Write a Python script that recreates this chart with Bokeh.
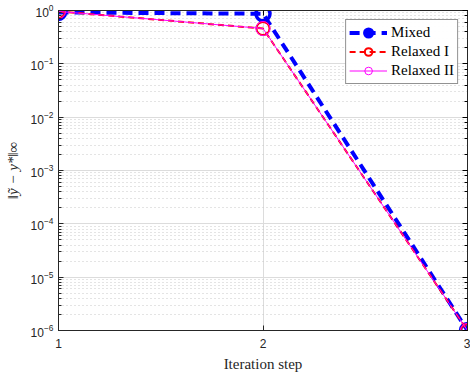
from bokeh.plotting import figure
from bokeh.models import LogAxis, LinearAxis, Legend, LegendItem, FixedTicker, Range1d
from bokeh.embed import file_html
from bokeh.resources import INLINE

steps = [1, 2, 3]
mixed = [0.92, 0.87, 1e-6]
relaxed1 = [0.96, 0.46, 1e-6]
relaxed2 = [0.96, 0.46, 1e-6]
x_ticks = [1, 2, 3]

p = figure(frame_width=409, frame_height=320, y_axis_type="log", output_backend="svg",
           toolbar_location=None, x_range=Range1d(1, 3), y_range=Range1d(1e-6, 1),
           min_border_left=58, min_border_right=3, min_border_top=10, min_border_bottom=43)
p.outline_line_color = "#262626"
p.outline_line_width = 1
p.background_fill_color = "white"

for ax in [p.xaxis[0], p.yaxis[0]]:
    ax.major_tick_in = 5
    ax.major_tick_out = 0
    ax.minor_tick_in = 3
    ax.minor_tick_out = 0
    ax.axis_line_color = "#262626"
    ax.major_tick_line_color = "#262626"
    ax.minor_tick_line_color = "#262626"
    ax.major_label_text_font = "Liberation Sans"
    ax.major_label_text_font_size = "12px"
    ax.major_label_text_color = "#262626"
    ax.axis_label_text_font = "Liberation Serif"
    ax.axis_label_text_font_style = "normal"
    ax.axis_label_text_font_size = "15px"
    ax.axis_label_text_color = "#262626"

p.xaxis.ticker = FixedTicker(ticks=x_ticks, minor_ticks=[])
p.xaxis.axis_label = "Iteration step"
p.yaxis.axis_label = "‖ỹ − y*‖∞"
p.yaxis.axis_label_text_font_style = "italic"
p.xaxis.major_label_standoff = 8
p.yaxis.major_label_standoff = 5
p.xaxis.axis_label_standoff = 5
p.yaxis.axis_label_standoff = 7

ra = LogAxis(major_label_text_font_size="1px", major_label_text_color=None,
             major_tick_in=5, major_tick_out=0,
             minor_tick_in=3, minor_tick_out=0, axis_line_color="#262626",
             major_label_standoff=0)
p.add_layout(ra, "right")
ta = LinearAxis(major_label_text_font_size="1px", major_label_text_color=None,
                major_tick_in=5, major_tick_out=0,
                minor_tick_in=0, minor_tick_out=0, axis_line_color="#262626",
                major_label_standoff=0)
ta.ticker = FixedTicker(ticks=x_ticks, minor_ticks=[])
p.add_layout(ta, "above")

p.xgrid.grid_line_color = "#dcdcdc"
p.ygrid.grid_line_color = "#dcdcdc"
p.ygrid.minor_grid_line_color = "#c8c8c8"
p.ygrid.minor_grid_line_dash = "1 3"

l1 = p.line(steps, mixed, line_color="#0000ff", line_width=4, line_dash="10 6")
m1 = p.scatter(steps, mixed, marker="circle", size=14, line_color="#0000ff",
               line_width=3.5, fill_color=None)
l2 = p.line(steps, relaxed1, line_color="#ff0000", line_width=2, line_dash="6 4")
m2 = p.scatter(steps, relaxed1, marker="circle", size=13, line_color="#ff0000",
               line_width=2, fill_color=None)
l3 = p.line(steps, relaxed2, line_color="#ff00ff", line_width=1)
m3 = p.scatter(steps, relaxed2, marker="circle", size=14, line_color="#ff00ff",
               line_width=1, fill_color=None)

legend = Legend(items=[
    LegendItem(label="Mixed", renderers=[l1, m1]),
    LegendItem(label="Relaxed I", renderers=[l2, m2]),
    LegendItem(label="Relaxed II", renderers=[l3, m3]),
], location="top_right")
legend.label_text_font = "Liberation Serif"
legend.label_text_font_size = "15px"
legend.label_text_color = "black"
legend.border_line_color = "#262626"
legend.border_line_width = 1
legend.margin = 9
legend.padding = 3
legend.spacing = 0
legend.glyph_width = 38
legend.glyph_height = 19
legend.label_height = 19
legend.label_standoff = 4
p.add_layout(legend, "center")

open("out.html", "w").write(file_html(p, INLINE))
